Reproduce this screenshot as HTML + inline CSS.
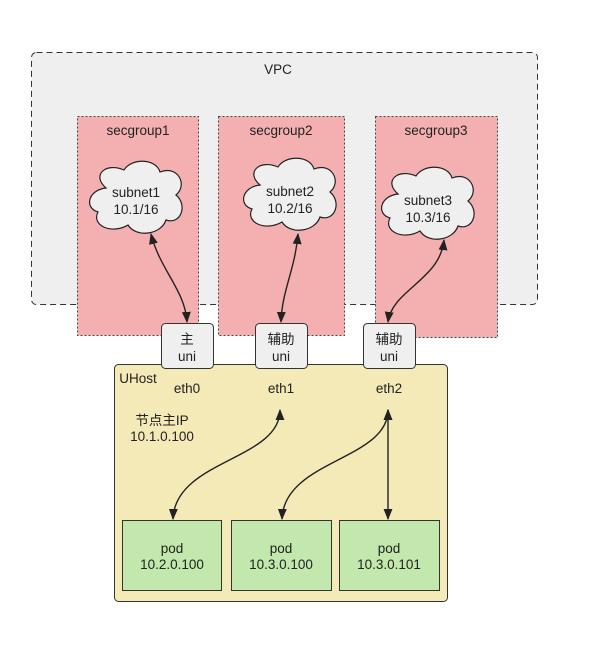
<!DOCTYPE html>
<html><head><meta charset="utf-8"><style>
body{margin:0;background:#fff;}
svg text{font-family:"Liberation Sans","Noto Sans CJK SC",sans-serif;font-size:13.5px;fill:#222;text-anchor:middle;}
</style></head><body>
<svg width="601" height="645" viewBox="0 0 601 645" xmlns="http://www.w3.org/2000/svg">
<defs>
<marker id="a" viewBox="0 0 10 10" refX="9" refY="5" markerWidth="8" markerHeight="8" orient="auto-start-reverse"><path d="M0,1 L10,5 L0,9 z" fill="#222"/></marker>
<path id="cl" d="M-30,-12 C-45,-25 -30,-38 -12,-30 C-5,-42 20,-42 24,-28 C42,-35 52,-15 40,-5 C52,5 45,25 30,20 C25,35 0,38 -8,25 C-25,35 -45,25 -38,12 C-52,8 -48,-10 -30,-12 z"/>
</defs>
<rect x="31.5" y="52.5" width="506" height="252" rx="5" fill="#efefef" stroke="#333" stroke-dasharray="6,4"/>
<text x="278" y="74">VPC</text>
<rect x="77.5" y="116.5" width="121" height="219" fill="#f4b0b0" stroke="#444" stroke-dasharray="2,2"/>
<rect x="218.5" y="116.5" width="126" height="219" fill="#f4b0b0" stroke="#444" stroke-dasharray="2,2"/>
<rect x="375.5" y="116.5" width="122" height="221" fill="#f4b0b0" stroke="#444" stroke-dasharray="2,2"/>
<text x="138" y="135">secgroup1</text>
<text x="281" y="135">secgroup2</text>
<text x="436" y="135">secgroup3</text>
<use href="#cl" x="136" y="200" fill="#efefef" stroke="#222" stroke-width="1.2"/>
<use href="#cl" x="290" y="197" fill="#efefef" stroke="#222" stroke-width="1.2"/>
<use href="#cl" x="428" y="206" fill="#efefef" stroke="#222" stroke-width="1.2"/>
<text x="136" y="197">subnet1</text><text x="136" y="214">10.1/16</text>
<text x="290" y="196">subnet2</text><text x="290" y="213">10.2/16</text>
<text x="428" y="205">subnet3</text><text x="428" y="222">10.3/16</text>
<rect x="114.5" y="364.5" width="333" height="237" rx="4" fill="#f3eab8" stroke="#333"/>
<text x="138" y="383">UHost</text>
<rect x="161.5" y="323.5" width="52" height="45" rx="4" fill="#efefef" stroke="#333"/>
<rect x="255.5" y="323.5" width="52" height="45" rx="4" fill="#efefef" stroke="#333"/>
<rect x="363.5" y="323.5" width="52" height="45" rx="4" fill="#efefef" stroke="#333"/>
<text x="187" y="344">主</text><text x="187" y="361">uni</text>
<text x="281" y="344">辅助</text><text x="281" y="361">uni</text>
<text x="389" y="344">辅助</text><text x="389" y="361">uni</text>
<text x="187" y="393">eth0</text><text x="281" y="393">eth1</text><text x="389" y="393">eth2</text>
<text x="162" y="425">节点主IP</text><text x="162" y="441">10.1.0.100</text>
<g fill="none" stroke="#222" stroke-width="1.4" marker-start="url(#a)" marker-end="url(#a)">
<path d="M151,234 C160,270 185,290 187,322"/>
<path d="M298,234 C295,270 282,290 281,322"/>
<path d="M444,240 C440,280 392,290 388,322"/>
<path d="M280,410 C280,460 175,460 173,519"/>
<path d="M388,410 C388,460 284,460 282,519"/>
<path d="M388,410 L388,519"/>
</g>
<rect x="122.5" y="520.5" width="99" height="70" fill="#c3e8ad" stroke="#333"/>
<rect x="231.5" y="520.5" width="100" height="70" fill="#c3e8ad" stroke="#333"/>
<rect x="339.5" y="520.5" width="100" height="70" fill="#c3e8ad" stroke="#333"/>
<text x="172" y="553">pod</text><text x="172" y="569">10.2.0.100</text>
<text x="281" y="553">pod</text><text x="281" y="569">10.3.0.100</text>
<text x="389" y="553">pod</text><text x="389" y="569">10.3.0.101</text>
</svg>
</body></html>
